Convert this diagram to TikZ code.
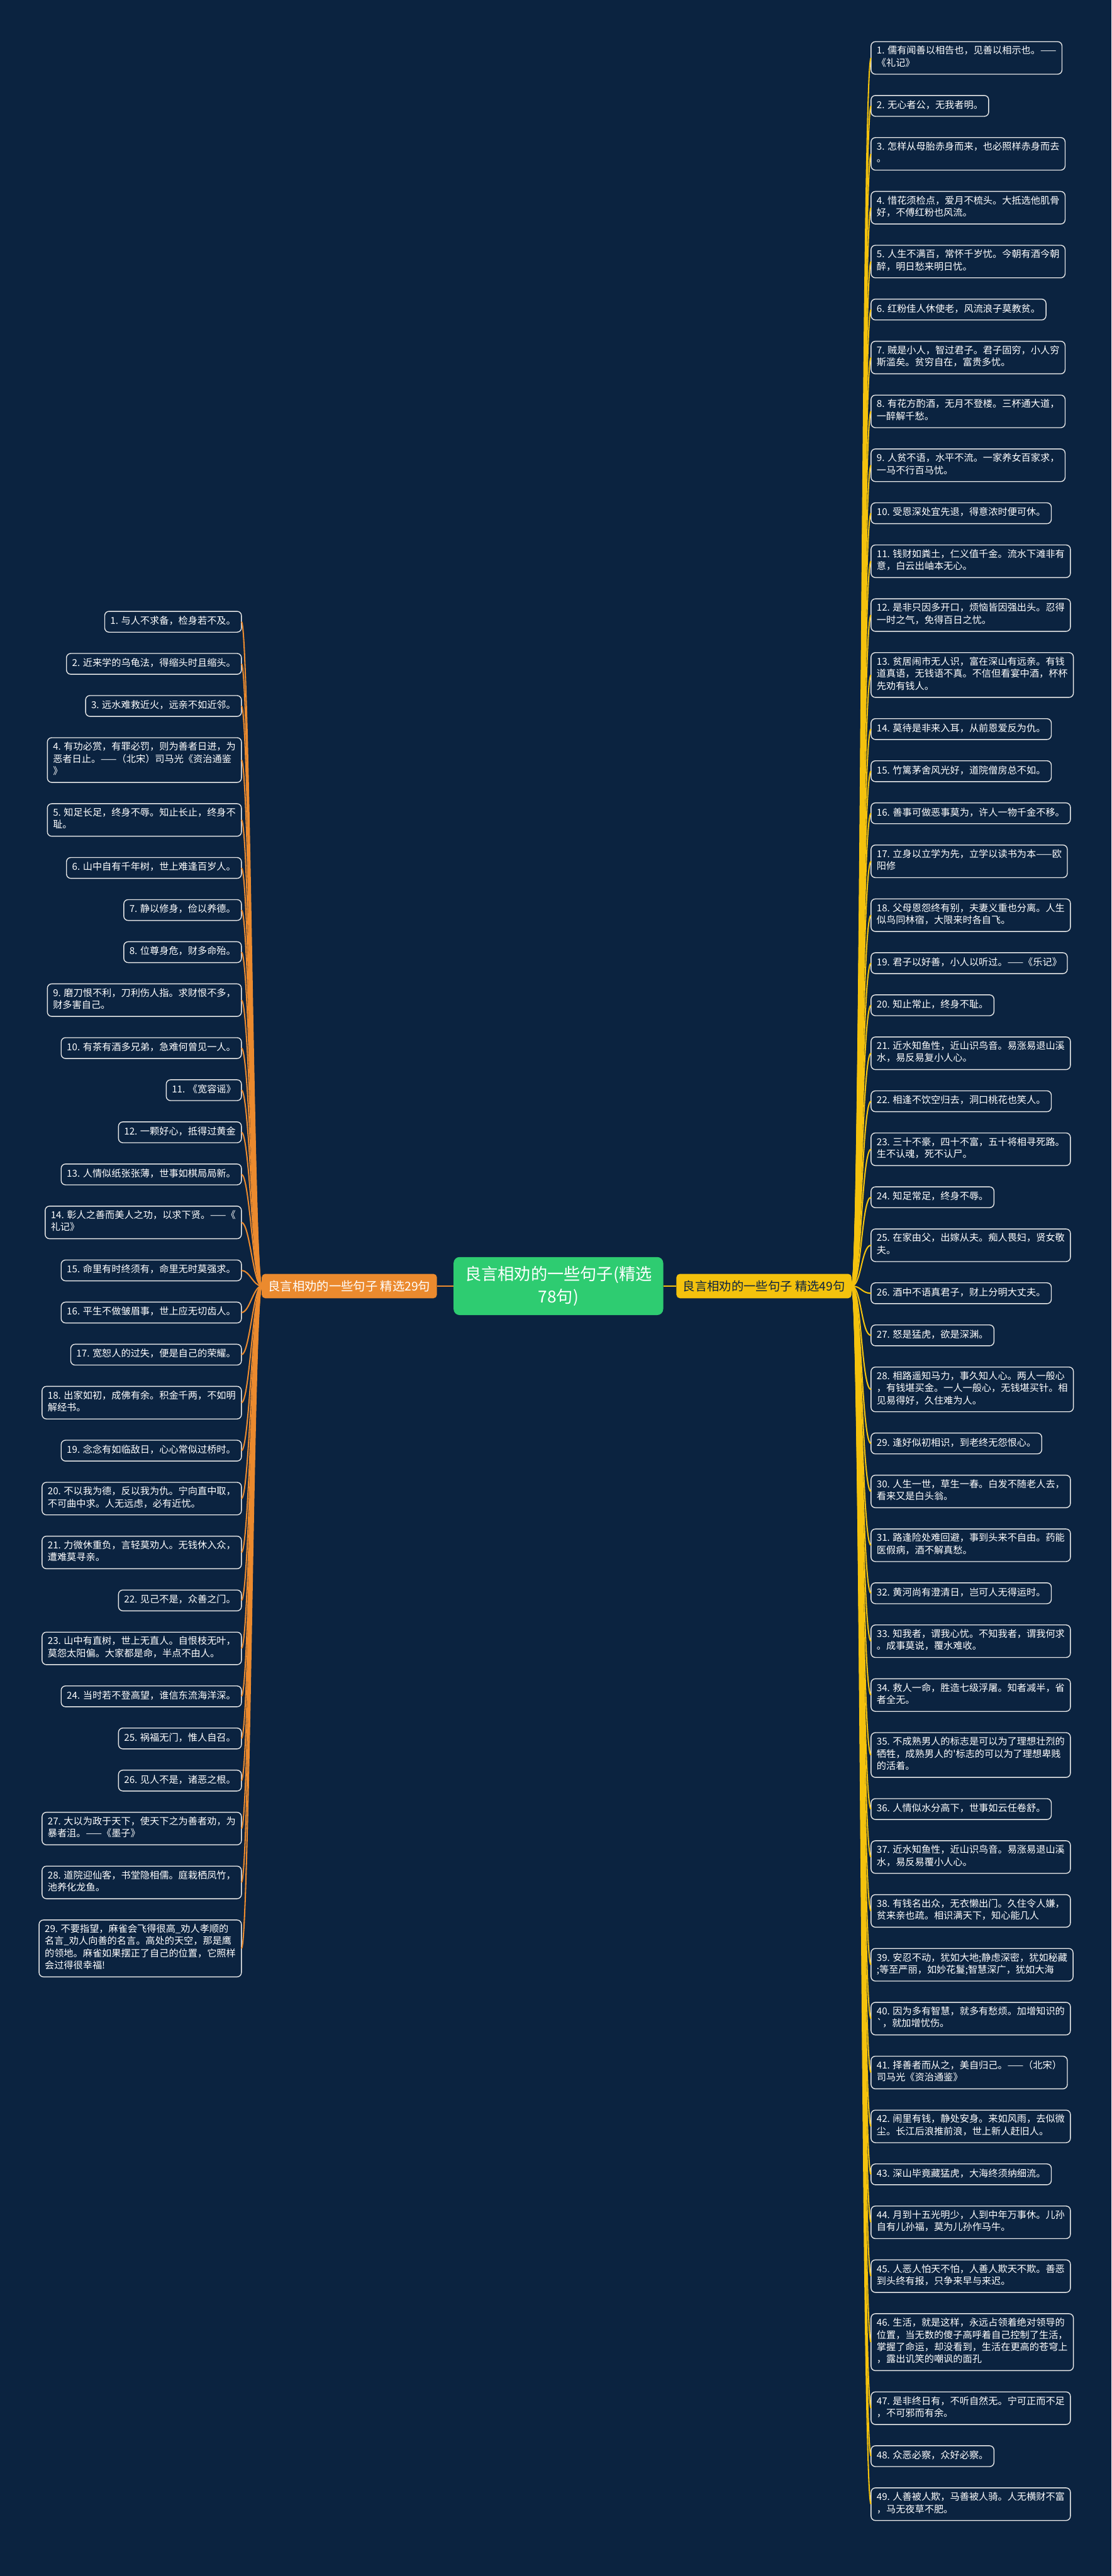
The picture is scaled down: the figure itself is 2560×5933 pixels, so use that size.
\documentclass[tikz,border=0pt]{standalone}
\usepackage{fontspec}
\newfontfamily\cjk{Noto Sans CJK SC}
\usetikzlibrary{positioning}
\definecolor{bgnavy}{HTML}{0B2340}
\definecolor{boxline}{HTML}{E8E8E8}
\definecolor{rootgreen}{HTML}{2ECC71}
\definecolor{subyellow}{HTML}{F4C20D}
\definecolor{suborange}{HTML}{EB8A2E}
\tikzset{
	leaf/.style={draw=boxline, line width=2pt, rounded corners=10pt, fill=bgnavy, text=white,
		font=\cjk\fontsize{22}{28}\selectfont, align=left, inner xsep=13pt, inner ysep=10pt,
		outer sep=0pt, execute at begin node=\strut, execute at end node=\strut},
	rleaf/.style={leaf, below right=49pt and 0pt of #1.south west},
	lleaf/.style={leaf, below left=49pt and 0pt of #1.south east},
	rline/.style={draw=subyellow, line width=3pt},
	lline/.style={draw=suborange, line width=3pt}
}
\begin{document}
\begin{tikzpicture}[x=1pt,y=-1pt]
	\fill[bgnavy] (0,0) rectangle (2560,5933);
	\useasboundingbox (0,0) rectangle (2560,5933);
	\node[fill=rootgreen, text=white, rounded corners=14pt, align=center, inner xsep=26pt, inner ysep=21pt,
		font=\cjk\fontsize{38}{52}\selectfont] (root) at (1286,2962) {良言相劝的一些句子(精选\\78句)};
	\node[fill=subyellow, text=bgnavy, rounded corners=8pt, inner xsep=15pt, inner ysep=15pt,
		font=\cjk\fontsize{28}{34}\selectfont, right=30pt of root] (rsub) {良言相劝的一些句子 精选49句};
	\node[fill=suborange, text=white, rounded corners=8pt, inner xsep=15pt, inner ysep=15pt,
		font=\cjk\fontsize{28}{34}\selectfont, left=38pt of root] (lsub) {良言相劝的一些句子 精选29句};
	\draw[rline] (root.east) -- (rsub.west);
	\draw[lline] (root.west) -- (lsub.east);

	\node[leaf, anchor=north west] (r1) at (2006,96) {1. 儒有闻善以相告也，见善以相示也。——\\《礼记》};
	\node[rleaf=r1] (r2) {2. 无心者公，无我者明。};
	\node[rleaf=r2] (r3) {3. 怎样从母胎赤身而来，也必照样赤身而去\\。};
	\node[rleaf=r3] (r4) {4. 惜花须检点，爱月不梳头。大抵选他肌骨\\好，不傅红粉也风流。};
	\node[rleaf=r4] (r5) {5. 人生不满百，常怀千岁忧。今朝有酒今朝\\醉，明日愁来明日忧。};
	\node[rleaf=r5] (r6) {6. 红粉佳人休使老，风流浪子莫教贫。};
	\node[rleaf=r6] (r7) {7. 贼是小人，智过君子。君子固穷，小人穷\\斯滥矣。贫穷自在，富贵多忧。};
	\node[rleaf=r7] (r8) {8. 有花方酌酒，无月不登楼。三杯通大道，\\一醉解千愁。};
	\node[rleaf=r8] (r9) {9. 人贫不语，水平不流。一家养女百家求，\\一马不行百马忧。};
	\node[rleaf=r9] (r10) {10. 受恩深处宜先退，得意浓时便可休。};
	\node[rleaf=r10] (r11) {11. 钱财如粪土，仁义值千金。流水下滩非有\\意，白云出岫本无心。};
	\node[rleaf=r11] (r12) {12. 是非只因多开口，烦恼皆因强出头。忍得\\一时之气，免得百日之忧。};
	\node[rleaf=r12] (r13) {13. 贫居闹市无人识，富在深山有远亲。有钱\\道真语，无钱语不真。不信但看宴中酒，杯杯\\先劝有钱人。};
	\node[rleaf=r13] (r14) {14. 莫待是非来入耳，从前恩爱反为仇。};
	\node[rleaf=r14] (r15) {15. 竹篱茅舍风光好，道院僧房总不如。};
	\node[rleaf=r15] (r16) {16. 善事可做恶事莫为，许人一物千金不移。};
	\node[rleaf=r16] (r17) {17. 立身以立学为先，立学以读书为本——欧\\阳修};
	\node[rleaf=r17] (r18) {18. 父母恩怨终有别，夫妻义重也分离。人生\\似鸟同林宿，大限来时各自飞。};
	\node[rleaf=r18] (r19) {19. 君子以好善，小人以听过。——《乐记》};
	\node[rleaf=r19] (r20) {20. 知止常止，终身不耻。};
	\node[rleaf=r20] (r21) {21. 近水知鱼性，近山识鸟音。易涨易退山溪\\水，易反易复小人心。};
	\node[rleaf=r21] (r22) {22. 相逢不饮空归去，洞口桃花也笑人。};
	\node[rleaf=r22] (r23) {23. 三十不豪，四十不富，五十将相寻死路。\\生不认魂，死不认尸。};
	\node[rleaf=r23] (r24) {24. 知足常足，终身不辱。};
	\node[rleaf=r24] (r25) {25. 在家由父，出嫁从夫。痴人畏妇，贤女敬\\夫。};
	\node[rleaf=r25] (r26) {26. 酒中不语真君子，财上分明大丈夫。};
	\node[rleaf=r26] (r27) {27. 怒是猛虎，欲是深渊。};
	\node[rleaf=r27] (r28) {28. 相路遥知马力，事久知人心。两人一般心\\，有钱堪买金。一人一般心，无钱堪买针。相\\见易得好，久住难为人。};
	\node[rleaf=r28] (r29) {29. 逢好似初相识，到老终无怨恨心。};
	\node[rleaf=r29] (r30) {30. 人生一世，草生一春。白发不随老人去，\\看来又是白头翁。};
	\node[rleaf=r30] (r31) {31. 路逢险处难回避，事到头来不自由。药能\\医假病，酒不解真愁。};
	\node[rleaf=r31] (r32) {32. 黄河尚有澄清日，岂可人无得运时。};
	\node[rleaf=r32] (r33) {33. 知我者，谓我心忧。不知我者，谓我何求\\。成事莫说，覆水难收。};
	\node[rleaf=r33] (r34) {34. 救人一命，胜造七级浮屠。知者减半，省\\者全无。};
	\node[rleaf=r34] (r35) {35. 不成熟男人的标志是可以为了理想壮烈的\\牺牲，成熟男人的'标志的可以为了理想卑贱\\的活着。};
	\node[rleaf=r35] (r36) {36. 人情似水分高下，世事如云任卷舒。};
	\node[rleaf=r36] (r37) {37. 近水知鱼性，近山识鸟音。易涨易退山溪\\水，易反易覆小人心。};
	\node[rleaf=r37] (r38) {38. 有钱名出众，无衣懒出门。久住令人嫌，\\贫来亲也疏。相识满天下，知心能几人};
	\node[rleaf=r38] (r39) {39. 安忍不动，犹如大地;静虑深密，犹如秘藏\\;等至严丽，如妙花鬘;智慧深广，犹如大海};
	\node[rleaf=r39] (r40) {40. 因为多有智慧，就多有愁烦。加增知识的\\`，就加增忧伤。};
	\node[rleaf=r40] (r41) {41. 择善者而从之，美自归己。——（北宋）\\司马光《资治通鉴》};
	\node[rleaf=r41] (r42) {42. 闹里有钱，静处安身。来如风雨，去似微\\尘。长江后浪推前浪，世上新人赶旧人。};
	\node[rleaf=r42] (r43) {43. 深山毕竟藏猛虎，大海终须纳细流。};
	\node[rleaf=r43] (r44) {44. 月到十五光明少，人到中年万事休。儿孙\\自有儿孙福，莫为儿孙作马牛。};
	\node[rleaf=r44] (r45) {45. 人恶人怕天不怕，人善人欺天不欺。善恶\\到头终有报，只争来早与来迟。};
	\node[rleaf=r45] (r46) {46. 生活，就是这样，永远占领着绝对领导的\\位置，当无数的傻子高呼着自己控制了生活，\\掌握了命运，却没看到，生活在更高的苍穹上\\，露出讥笑的嘲讽的面孔};
	\node[rleaf=r46] (r47) {47. 是非终日有，不听自然无。宁可正而不足\\，不可邪而有余。};
	\node[rleaf=r47] (r48) {48. 众恶必察，众好必察。};
	\node[rleaf=r48] (r49) {49. 人善被人欺，马善被人骑。人无横财不富\\，马无夜草不肥。};

	\node[leaf, anchor=north east] (l1) at (556,1408) {1. 与人不求备，检身若不及。};
	\node[lleaf=l1] (l2) {2. 近来学的乌龟法，得缩头时且缩头。};
	\node[lleaf=l2] (l3) {3. 远水难救近火，远亲不如近邻。};
	\node[lleaf=l3] (l4) {4. 有功必赏，有罪必罚，则为善者日进，为\\恶者日止。——（北宋）司马光《资治通鉴\\》};
	\node[lleaf=l4] (l5) {5. 知足长足，终身不辱。知止长止，终身不\\耻。};
	\node[lleaf=l5] (l6) {6. 山中自有千年树，世上难逢百岁人。};
	\node[lleaf=l6] (l7) {7. 静以修身，俭以养德。};
	\node[lleaf=l7] (l8) {8. 位尊身危，财多命殆。};
	\node[lleaf=l8] (l9) {9. 磨刀恨不利，刀利伤人指。求财恨不多，\\财多害自己。};
	\node[lleaf=l9] (l10) {10. 有茶有酒多兄弟，急难何曾见一人。};
	\node[lleaf=l10] (l11) {11. 《宽容谣》};
	\node[lleaf=l11] (l12) {12. 一颗好心，抵得过黄金};
	\node[lleaf=l12] (l13) {13. 人情似纸张张薄，世事如棋局局新。};
	\node[lleaf=l13] (l14) {14. 彰人之善而美人之功，以求下贤。——《\\礼记》};
	\node[lleaf=l14] (l15) {15. 命里有时终须有，命里无时莫强求。};
	\node[lleaf=l15] (l16) {16. 平生不做皱眉事，世上应无切齿人。};
	\node[lleaf=l16] (l17) {17. 宽恕人的过失，便是自己的荣耀。};
	\node[lleaf=l17] (l18) {18. 出家如初，成佛有余。积金千两，不如明\\解经书。};
	\node[lleaf=l18] (l19) {19. 念念有如临敌日，心心常似过桥时。};
	\node[lleaf=l19] (l20) {20. 不以我为德，反以我为仇。宁向直中取，\\不可曲中求。人无远虑，必有近忧。};
	\node[lleaf=l20] (l21) {21. 力微休重负，言轻莫劝人。无钱休入众，\\遭难莫寻亲。};
	\node[lleaf=l21] (l22) {22. 见己不是，众善之门。};
	\node[lleaf=l22] (l23) {23. 山中有直树，世上无直人。自恨枝无叶，\\莫怨太阳偏。大家都是命，半点不由人。};
	\node[lleaf=l23] (l24) {24. 当时若不登高望，谁信东流海洋深。};
	\node[lleaf=l24] (l25) {25. 祸福无门，惟人自召。};
	\node[lleaf=l25] (l26) {26. 见人不是，诸恶之根。};
	\node[lleaf=l26] (l27) {27. 大以为政于天下，使天下之为善者劝，为\\暴者沮。——《墨子》};
	\node[lleaf=l27] (l28) {28. 道院迎仙客，书堂隐相儒。庭栽栖凤竹，\\池养化龙鱼。};
	\node[lleaf=l28] (l29) {29. 不要指望，麻雀会飞得很高\_劝人孝顺的\\名言\_劝人向善的名言。高处的天空，那是鹰\\的领地。麻雀如果摆正了自己的位置，它照样\\会过得很幸福!};

	\foreach \i in {1,...,49}
		\draw[rline] (rsub.east) .. controls +(22,0) and +(-22,0) .. (r\i.west);
	\foreach \i in {1,...,29}
		\draw[lline] (lsub.west) .. controls +(-19,0) and +(19,0) .. (l\i.east);
\end{tikzpicture}
\end{document}
